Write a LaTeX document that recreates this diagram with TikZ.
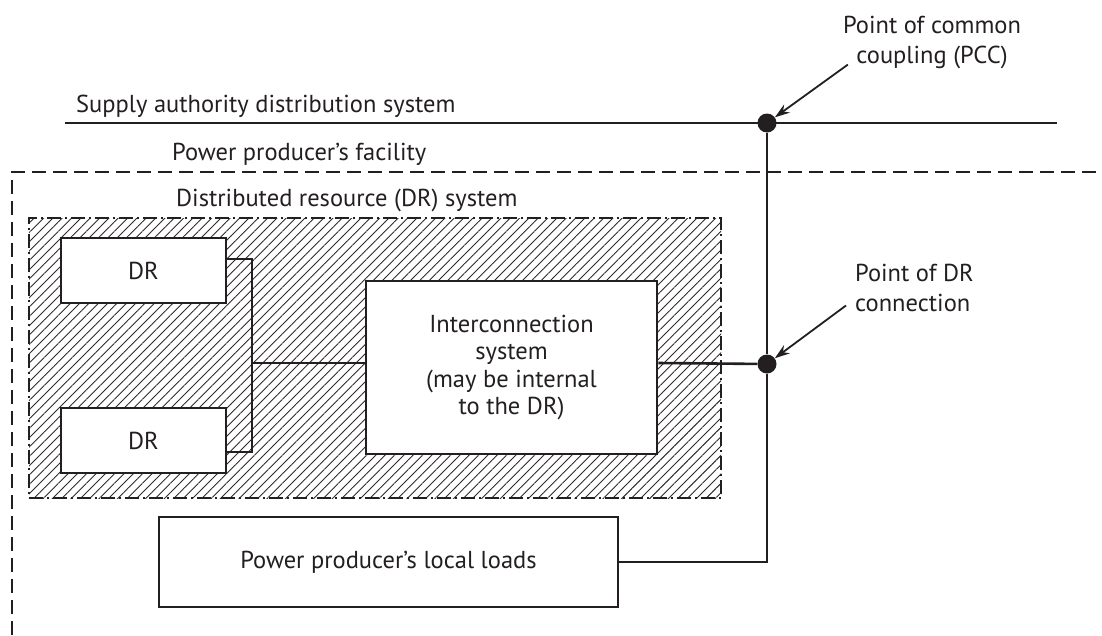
\documentclass[tikz,border=0pt]{standalone}
\usepackage{fontspec}
\setmainfont{PT Sans}
\usetikzlibrary{arrows.meta, positioning, patterns.meta}
\definecolor{clrInk}{HTML}{231F20}
\definecolor{clrHatch}{HTML}{2E2A2B}

\begin{document}
\begin{tikzpicture}[
  x=1pt, y=-1pt,
  box/.style = {
    rectangle,
    draw=clrInk,
    line width=2.6pt,
    fill=white,
    inner sep=0pt,
    align=center,
    font=\fontsize{24.5}{27.5}\selectfont,
    text=clrInk
  },
  hatchbox/.style = {
    rectangle,
    draw=clrInk,
    line width=1.4pt,
    dash pattern=on 14pt off 4pt on 2pt off 4pt,
    pattern={Lines[angle=45, distance=6.6pt, line width=0.9pt]},
    pattern color=clrHatch,
    inner sep=0pt
  },
  wire/.style = {
    draw=clrInk,
    line width=2.6pt
  },
  thinwire/.style = {
    draw=clrInk,
    line width=2.2pt
  },
  facility/.style = {
    draw=clrInk,
    line width=2pt,
    dash pattern=on 14pt off 7pt
  },
  dot/.style = {
    circle,
    fill=clrInk,
    minimum size=19pt,
    inner sep=0pt
  },
  pointer/.style = {
    -{Stealth[length=15pt, width=10pt]},
    line width=1.8pt,
    color=clrInk
  },
  label/.style = {
    font=\fontsize{24.5}{30}\selectfont,
    text=clrInk,
    inner sep=0pt
  }
]
\useasboundingbox (0,0) rectangle (1102,635);

% ── frames ───────────────────────────────────────────────────────────────────
\coordinate (facSW) at (12,635);
\coordinate (facNW) at (12,172);
\coordinate (facNE) at (1102,172);
\draw[facility] (facSW) -- (facNW) -- (facNE);

\node[hatchbox, minimum width=692pt, minimum height=280pt] (drsys) at (375,358) {};

% ── nodes ────────────────────────────────────────────────────────────────────
\node[box, minimum width=165pt, minimum height=65pt] (drtop) at (143.5,270.5) {DR};
\node[box, minimum width=165pt, minimum height=65pt] (drbot) at (143.5,440.5) {DR};

\node[box, minimum width=291pt, minimum height=173pt] (inter) at (511.5,367.5)
  {Interconnection\\ system\\ (may be internal\\ to the DR)};

\node[box, minimum width=459pt, minimum height=90pt] (loads) at (388.5,562)
  {Power producer’s local loads};

\node[dot] (pcc) at (767,123) {};
\node[dot] (drc) at (767,364) {};

\coordinate (supW) at (65,123);
\coordinate (supE) at (1057,123);
\coordinate (split) at (252,363);

% ── labels ───────────────────────────────────────────────────────────────────
\node[label, anchor=base west] (supplylbl) at (76,112) {Supply authority distribution system};
\node[label, anchor=base west] (faclbl) at (172,160) {Power producer’s facility};
\node[label, anchor=base west] (drsyslbl) at (176,206) {Distributed resource (DR) system};

\node[label, align=center, anchor=base] (pcclbl) at (932,63) {Point of common\\ coupling (PCC)};
\node[label, align=left, anchor=base west] (drclbl) at (855,311) {Point of DR\\ connection};

% ── wires ────────────────────────────────────────────────────────────────────
\draw[wire] (supW) -- (supE);
\draw[wire] (pcc) -- (drc);
\draw[wire] (drc) |- (loads.east);
\draw[thinwire] ([yshift=11.5pt]drtop.east) -| (split) |- ([yshift=-11.5pt]drbot.east);
\draw[thinwire] (split) -- (split -| inter.west);
\draw[wire] (split -| inter.east) -- (drc);

% ── arrows ───────────────────────────────────────────────────────────────────
\draw[pointer] ([xshift=5pt, yshift=4pt]pcclbl.south west) -- (pcc);
\draw[pointer] ([xshift=-9pt, yshift=6pt]drclbl.south west) -- (drc);

\end{tikzpicture}
\end{document}
